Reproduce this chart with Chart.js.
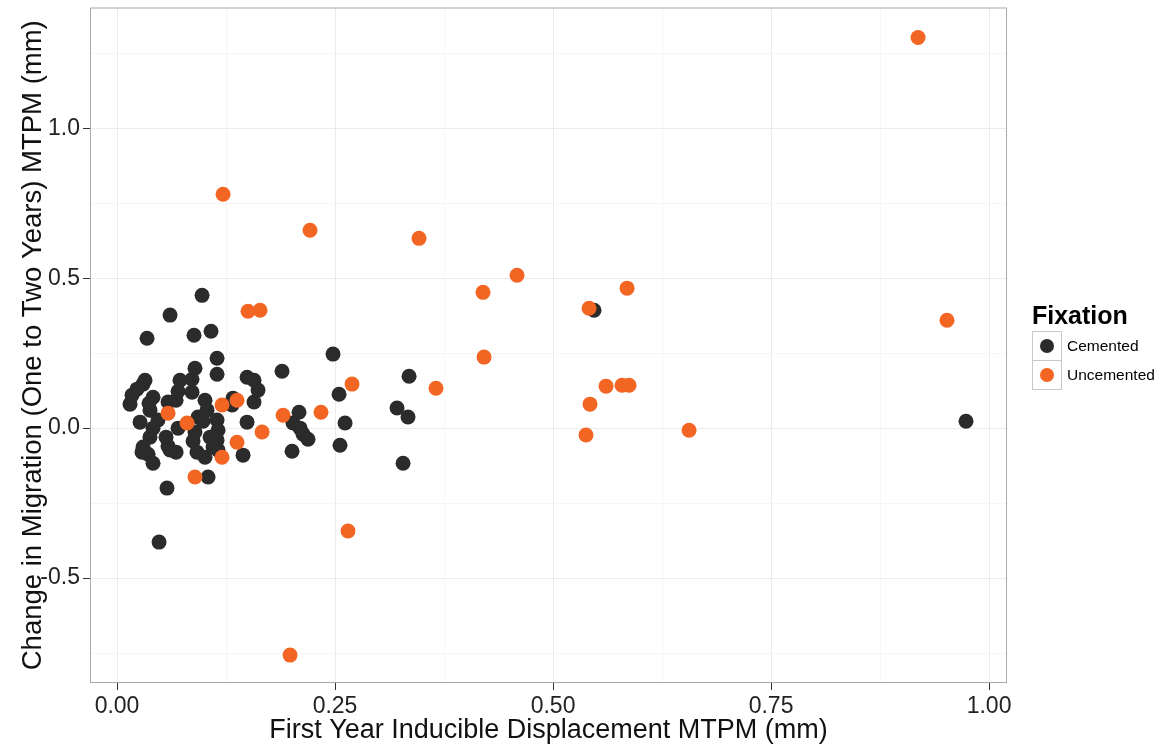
<!DOCTYPE html>
<html>
<head>
<meta charset="utf-8">
<title>Inducible displacement vs change in migration</title>
<script src="https://cdn.jsdelivr.net/npm/chart.js@4.4.1/dist/chart.umd.min.js"></script>
<style>
  body { margin: 0; background: #fff; font-family: "Liberation Sans", Arial, sans-serif; }
  #wrap { position: relative; width: 1165px; height: 748px; }
  #legend { position: absolute; left: 1032px; top: 300px; color: #000; }
  #legend .title { font-weight: bold; font-size: 25px; line-height: 30px; height: 30px; margin-bottom: 1px; }
  #legend .row { display: flex; align-items: center; height: 29px; }
  #legend .key { position: relative; width: 28px; height: 28px; border: 1px solid #c8c8c8; box-sizing: content-box; }
  #legend .row + .row .key { border-top: none; height: 29px; }
  #legend .dot { position: absolute; left: 7px; top: 7px; width: 14px; height: 14px; border-radius: 50%; }
  #legend .row + .row .dot { top: 8px; }
  #legend .lbl { font-size: 15.5px; margin-left: 5px; }
</style>
</head>
<body>
<div id="wrap">
  <canvas id="scatter" width="1165" height="748"></canvas>
  <div id="legend"></div>
</div>
<script>
// Cemented implants
const cementedX = [
  0.0975, 0.0608, 0.0344, 0.0883, 0.1078, 0.1147, 0.1147, 0.0894, 0.1892, 0.2477,
  0.0321, 0.0722, 0.0860, 0.1491, 0.1571, 0.1617, 0.1571, 0.1330, 0.1319, 0.0298,
  0.0229, 0.0172, 0.0149, 0.0413, 0.0367, 0.0378, 0.0585, 0.0677, 0.0700, 0.0860,
  0.0264, 0.0470, 0.0413, 0.0378, 0.0298, 0.0562, 0.0585, 0.0700, 0.0929, 0.0894,
  0.0872, 0.0917, 0.1009, 0.1032, 0.0986, 0.1067, 0.1101, 0.1009, 0.1147, 0.1158,
  0.1147, 0.1158, 0.1491, 0.1445, 0.0287, 0.0356, 0.0608, 0.0677, 0.0413, 0.1044,
  0.0573, 0.0482, 0.2007, 0.2018, 0.2087, 0.2099, 0.2133, 0.2190, 0.2546, 0.2615,
  0.2557, 0.3211, 0.3349, 0.3337, 0.3280, 0.5470, 0.9736
];
const cementedY = [
  0.443, 0.377, 0.300, 0.310, 0.323, 0.233, 0.180, 0.200, 0.190, 0.247,
  0.160, 0.160, 0.163, 0.170, 0.160, 0.127, 0.087, 0.100, 0.077, 0.147,
  0.130, 0.110, 0.080, 0.103, 0.083, 0.060, 0.087, 0.093, 0.123, 0.120,
  0.020, 0.027, 0.000, -0.030, -0.063, -0.030, -0.060, 0.000, 0.037, -0.013,
  -0.043, -0.080, 0.093, 0.060, 0.023, -0.030, -0.063, -0.097, 0.027, -0.007,
  -0.040, -0.073, 0.020, -0.090, -0.080, -0.087, -0.073, -0.080, -0.117, -0.163,
  -0.200, -0.380, -0.077, 0.017, 0.053, 0.000, -0.020, -0.037, 0.113, 0.017,
  -0.057, 0.067, 0.173, 0.037, -0.117, 0.393, 0.023
];

// Uncemented implants
const uncementedX = [
  0.9186, 0.1216, 0.2213, 0.3463, 0.4587, 0.4197, 0.5849, 0.5413, 0.9518, 0.1502,
  0.1640, 0.4209, 0.2695, 0.3658, 0.5608, 0.5791, 0.5872, 0.5424, 0.2339, 0.1904,
  0.5378, 0.6560, 0.2649, 0.1984, 0.0585, 0.0803, 0.1204, 0.1376, 0.1663, 0.1376,
  0.1204, 0.0894
];
const uncementedY = [
  1.303, 0.780, 0.660, 0.633, 0.510, 0.453, 0.467, 0.400, 0.360, 0.390,
  0.393, 0.237, 0.147, 0.133, 0.140, 0.143, 0.143, 0.080, 0.053, 0.043,
  -0.023, -0.007, -0.343, -0.757, 0.050, 0.017, 0.077, 0.093, -0.013, -0.047,
  -0.097, -0.163
];

const xMajor = [0, 0.25, 0.5, 0.75, 1];
const xMinor = [0.125, 0.375, 0.625, 0.875];
const yMajor = [-0.5, 0, 0.5, 1.0];
const yMinor = [-0.75, -0.25, 0.25, 0.75, 1.25];
const xTickLabels = ["0.00", "0.25", "0.50", "0.75", "1.00"];
const yTickLabels = ["-0.5", "0.0", "0.5", "1.0"];

const seriesNames = ["Cemented", "Uncemented"];
const seriesColors = ["#2b2b2b", "#f26522"];

const toPoints = (xs, ys) => xs.map((x, i) => ({ x: x, y: ys[i] }));

function tickList(major, minor) {
  return major.map(v => ({ value: v, major: true }))
    .concat(minor.map(v => ({ value: v, major: false })))
    .sort((a, b) => a.value - b.value);
}

// grey frame around the panel
const panelBorder = {
  id: "panelBorder",
  afterDraw(chart) {
    const a = chart.chartArea;
    const ctx = chart.ctx;
    ctx.save();
    ctx.strokeStyle = "#a9a9a9";
    ctx.lineWidth = 1;
    ctx.strokeRect(a.left + 0.5, a.top + 0.5, a.right - a.left - 1, a.bottom - a.top - 1);
    ctx.restore();
  }
};

const gridColor = c => (c.tick && c.tick.major ? "#ececec" : "#f6f6f6");
const tickMarkColor = c => (c.tick && c.tick.major ? "#333" : "rgba(0,0,0,0)");

new Chart(document.getElementById("scatter"), {
  type: "scatter",
  data: {
    datasets: [
      {
        label: seriesNames[0],
        data: toPoints(cementedX, cementedY),
        backgroundColor: seriesColors[0],
        order: 1
      },
      {
        label: seriesNames[1],
        data: toPoints(uncementedX, uncementedY),
        backgroundColor: seriesColors[1],
        order: 0
      }
    ]
  },
  options: {
    responsive: false,
    animation: false,
    layout: { padding: { top: 7, right: 158, left: 0, bottom: 0 } },
    elements: { point: { radius: 7.5, hoverRadius: 7.5, borderWidth: 0 } },
    plugins: { legend: { display: false }, tooltip: { enabled: false } },
    scales: {
      x: {
        type: "linear",
        min: -0.031,
        max: 1.0206,
        afterBuildTicks: s => { s.ticks = tickList(xMajor, xMinor); },
        afterFit: s => {
          s.height = 65;
          s.paddingLeft = 0;
          s.paddingRight = 0;
        },
        grid: { color: gridColor, tickColor: tickMarkColor, tickLength: 7, lineWidth: 1 },
        border: { display: false },
        ticks: {
          autoSkip: false,
          maxRotation: 0,
          padding: 3,
          color: "#222",
          font: { family: "Liberation Sans", size: 23 },
          callback: v => {
            const i = xMajor.indexOf(v);
            return i >= 0 ? xTickLabels[i] : "";
          }
        },
        title: {
          display: true,
          text: "First Year Inducible Displacement MTPM (mm)",
          color: "#111",
          font: { family: "Liberation Sans", size: 27 },
          padding: { top: 0, bottom: 1 }
        }
      },
      y: {
        type: "linear",
        min: -0.85,
        max: 1.403,
        afterBuildTicks: s => { s.ticks = tickList(yMajor, yMinor); },
        afterFit: s => {
          s.width = 90;
          s.paddingTop = 0;
          s.paddingBottom = 0;
        },
        grid: { color: gridColor, tickColor: tickMarkColor, tickLength: 7, lineWidth: 1 },
        border: { display: false },
        ticks: {
          autoSkip: false,
          padding: 3,
          color: "#222",
          font: { family: "Liberation Sans", size: 23 },
          callback: v => {
            const i = yMajor.indexOf(v);
            return i >= 0 ? yTickLabels[i] : "";
          }
        },
        title: {
          display: true,
          text: "Change in Migration (One to Two Years) MTPM (mm)",
          color: "#111",
          font: { family: "Liberation Sans", size: 27.5 },
          padding: { top: 17, bottom: 0 }
        }
      }
    }
  },
  plugins: [panelBorder]
});

// legend on the right
const legend = document.getElementById("legend");
let html = '<div class="title">Fixation</div>';
seriesNames.forEach((name, i) => {
  html += '<div class="row"><div class="key"><div class="dot" style="background:' +
    seriesColors[i] + '"></div></div><span class="lbl">' + name + '</span></div>';
});
legend.innerHTML = html;
</script>
</body>
</html>
